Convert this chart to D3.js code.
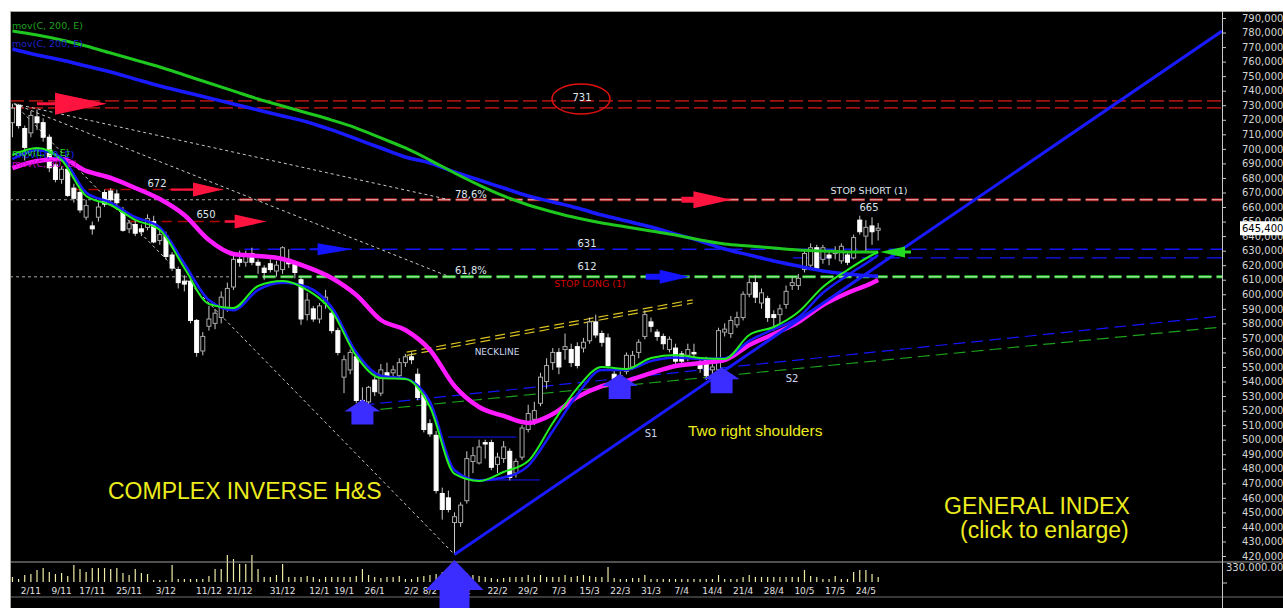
<!DOCTYPE html>
<html>
<head>
<meta charset="utf-8">
<script src="https://cdn.jsdelivr.net/npm/d3@7"></script>
<style>
  body { margin: 0; background: #fff; }
  svg { display: block; font-family: "DejaVu Sans", Verdana, sans-serif; }
</style>
</head>
<body>
<svg id="chart" width="1283" height="608"></svg>
<script>
// daily candles, 27/10/2015 .. 26/5/2016  [open, high, low, close]
const candles = [
  [718,731,708,728],[730,731,714,716],[714,716,692,701],[711,726,708,723],[722,727,713,718],
  [718,721,705,708],[708,710,684,687],[689,690,677,679],[679,688,676,686],[686,688,667,668],
  [673,676,663,666],[670,672,656,658],[653,665,651,661],[647,650,641,645],[653,664,650,660],
  [670,672,660,662],[671,673,662,665],[669,672,658,663],[656,660,643,644],[645,651,642,649],
  [648,651,640,642],[645,648,640,643],[646,655,644,652],[650,654,635,636],[637,646,634,641],
  [640,643,624,626],[627,629,616,618],[617,619,604,608],[609,613,602,607],[609,611,580,582],
  [582,583,557,560],[561,574,558,571],[578,592,575,583],[580,590,576,587],[584,602,580,598],
  [591,608,588,604],[605,627,603,624],[624,630,619,622],[622,630,619,627],[628,632,620,622],
  [622,624,614,620],[618,620,610,615],[621,624,615,617],[616,623,612,620],[617,633,614,632],
  [624,631,618,621],[621,623,611,615],[610,612,579,583],[586,601,582,596],[590,592,581,583],
  [583,594,580,592],[594,603,590,598],[587,589,573,575],[575,577,558,560],[543,558,532,555],
  [548,562,545,560],[557,559,525,527],[527,536,519,522],[526,537,524,536],[541,545,530,533],
  [532,552,530,548],[546,553,542,544],[546,551,543,548],[544,556,542,553],[553,559,550,557],
  [557,560,552,555],[545,549,527,529],[531,533,505,507],[511,514,502,504],[503,506,463,465],
  [463,467,445,452],[460,465,450,452],[443,450,421,447],[443,457,440,455],[458,492,456,487],
  [485,495,477,489],[484,500,483,495],[498,500,487,497],[498,500,479,481],[483,491,477,488],
  [487,499,484,495],[492,494,472,474],[477,487,474,485],[488,510,486,508],[507,524,505,518],
  [514,526,510,520],[525,546,523,543],[540,556,535,551],[553,563,548,560],[560,563,545,550],
  [562,573,555,564],[562,566,550,553],[564,567,549,551],[563,570,560,567],[568,584,566,581],
  [581,586,570,572],[573,575,564,567],[570,573,549,551],[545,548,538,542],[541,547,537,544],
  [547,560,545,558],[550,561,548,558],[560,569,556,567],[571,589,569,586],[581,584,574,578],
  [574,576,568,571],[571,573,562,566],[562,571,560,569],[563,566,552,554],[559,561,551,554],
  [558,566,554,562],[560,566,555,559],[553,556,546,549],[555,557,541,544],[548,553,543,550],
  [548,577,546,575],[574,580,571,576],[573,585,570,582],[579,588,577,584],[584,602,582,600],
  [600,611,598,608],[608,613,594,598],[594,604,590,601],[597,599,581,584],[586,589,575,584],
  [586,593,580,590],[593,606,590,602],[606,612,603,608],[606,614,603,611],[617,631,615,628],
  [620,635,617,632],[632,634,616,618],[624,634,621,632],[627,629,620,625],[628,633,624,630],
  [623,635,621,633],[627,629,620,622],[625,641,624,639],[651,654,641,643],[640,651,629,646],
  [647,653,634,643],[644,649,637,645.4]
];

// volume, millions
const volumes = [
  83,50,116,132,198,231,165,132,149,99, 281,215,165,231,231,231,215,231,149,116,
  215,149,132,33,33,33,281,50,50,50, 50,50,99,215,215,446,380,297,297,446,
  215,83,83,116,297,83,83,83,99,83, 50,83,83,83,83,83,99,215,116,83,
  66,83,83,99,50,50,83,99,116,132, 165,198,231,198,149,116,99,83,66,50,
  66,83,83,83,116,83,116,83,83,83, 116,83,99,116,99,83,83,248,66,50,
  50,66,66,116,50,50,50,50,50,50, 50,50,50,50,50,116,50,50,50,83,
  116,83,83,83,83,83,83,83,83,198, 99,83,50,50,99,50,50,165,198,198,
  132,83
];

// date labels and the candle they sit under
const dateLabels = ["2/11","9/11","17/11","25/11","3/12","11/12","21/12","31/12","12/1","19/1","26/1","2/2","8/2",
  "15/2","22/2","29/2","7/3","15/3","22/3","31/3","7/4","14/4","21/4","28/4","10/5","17/5","24/5"];
const dateIdx = [3,8,13,19,25,32,37,44,50,54,59,65,68,73,79,84,89,94,99,104,109,114,119,124,129,134,139];

const priceTicks = [420,430,440,450,460,470,480,490,500,510,520,530,540,550,560,570,580,590,600,
  610,620,630,640,650,660,670,680,690,700,710,720,730,740,750,760,770,780,790];

// moving averages read at every 4th candle
const maIdx = [0,4,8,12,16,20,24,28,32,36,40,44,48,52,56,60,64,68,72,76,80,84,88,92,96,100,104,108,112,116,120,124,128,132,136,140,141];
const ema200Green = [781.1,778.3,774.9,770.7,765.9,761.1,756.3,750.8,745.3,739.8,734.3,729.5,724.7,719.8,714.3,707.5,700.6,692.3,683.4,675.1,667.6,661.4,656.6,652.4,649,646.3,643.5,640.8,637.3,634.6,633.2,631.8,630.4,629.8,629.1,629.1,629.1];
const ema200Blue = [768.7,764.6,761.1,757,752.9,748,743.2,739.1,735,730.9,726.7,722.6,718.5,713,706.8,700.6,694.4,690.3,684.1,678.6,673.1,667.6,663.5,659.3,654.5,650.4,646.3,641.4,636.6,631.1,627,622.9,619.4,616,613.9,612.6,612.6];
const ema9Low = [695.8,700.6,692.3,667.6,661.4,651.1,644.2,618.1,593.3,590.6,605.7,609.1,602.9,588.5,557.5,542.4,541.7,522.5,476.4,471.6,477.8,485.3,511.5,535.5,550,548.6,556.2,558.2,556.2,555.5,572,577.5,587.8,605,616.7,627,629.1];
const ema9High = [693,699,694,670,663,653,646,621,596,589,603,608,605,591,560,544,542,526,479,472,474,482,506,531,548,548,554,556.5,555.5,556,568,576,584,601,613,624,627];
const ema30 = [686.8,691.7,693,684.8,680,673.1,665.5,654.5,637.3,627.7,626.3,624.3,618.7,611.2,599.5,582.3,575.4,561.7,536.9,522.5,516.3,511.5,517.6,529.3,536.9,540.3,545.8,550.7,552.7,554.8,565.1,572.7,580.9,592.6,600.9,607.7,609.8];

const lastPrice = 645.4;

// ---- layout ----
const svg = d3.select("#chart");
const PLOT = { left: 10, right: 1222, top: 11, bottom: 562 };
const x = d3.scaleLinear().domain([-0.4, 197]).range([PLOT.left, PLOT.right]);
const y = d3.scaleLinear().domain([420, 790]).range([556, 18]);
const yVol = d3.scaleLinear().domain([0, 330]).range([582, 562]);
const fmt = (v) => v.toFixed(3).replace(".", ",");

svg.append("rect").attr("x", 10).attr("y", 11).attr("width", 1273).attr("height", 597).attr("fill", "#000");

svg.append("defs").append("clipPath").attr("id", "plotClip")
  .append("rect").attr("x", PLOT.left).attr("y", PLOT.top)
  .attr("width", PLOT.right - PLOT.left).attr("height", PLOT.bottom - PLOT.top);

const plot = svg.append("g").attr("clip-path", "url(#plotClip)");

function hline(v, s0, s1, stroke, width, dash) {
  plot.append("line")
    .attr("x1", x(s0)).attr("x2", x(s1))
    .attr("y1", y(v)).attr("y2", y(v))
    .style("stroke", stroke).style("stroke-width", width)
    .style("stroke-dasharray", dash || null);
}
function segment(a, b, stroke, width, dash) {
  plot.append("line")
    .attr("x1", x(a[0])).attr("y1", y(a[1]))
    .attr("x2", x(b[0])).attr("y2", y(b[1]))
    .style("stroke", stroke).style("stroke-width", width)
    .style("stroke-dasharray", dash || null);
}

// ---- levels ----
hline(733, -0.4, 197, "#a01212", 1.6, "14,5");
hline(728.2, -0.4, 197, "#a01212", 1.6, "14,5");
hline(665, -0.4, 37, "#a8a8a8", 1, "3,3");
hline(612, -0.4, 37.8, "#a8a8a8", 1, "3,3");
hline(665, 37, 197, "#b01818", 3, "13,5");
hline(665, 37, 197, "#f0f0f0", 0.8, "13,5");
hline(612, 37.8, 197, "#1ec81e", 3, "13,5");
hline(612, 37.8, 197, "#f0f0f0", 0.8, "13,5");
hline(631, 37.8, 197, "#1414ff", 1.5, "15,8");
hline(625, 127.1, 197, "#1414ff", 1.2, "15,8");
hline(672, 9.8, 34.3, "#b00000", 1.5, "10,6");
hline(650, 19.1, 36, "#b00000", 1.5, "10,6");
hline(501.8, 70.9, 82.1, "#1414ff", 1, null);
hline(472.3, 75.6, 85.9, "#1414ff", 1, null);

// fibonacci fan
segment([0.3, 731], [72, 421], "#c8c8c8", 1, "3,3");
segment([0.3, 731], [71.2, 665], "#c8c8c8", 1, "3,3");
segment([0.3, 731], [71.2, 612], "#c8c8c8", 1, "3,3");

// supports and neckline
segment([57, 523.8], [197, 585], "#1414ff", 1.2, "12,6");
segment([57, 519.7], [197, 577.5], "#1aa01a", 1.2, "12,6");
segment([64.2, 558], [110.8, 594], "#d8c020", 1.2, "10,5");
segment([64.2, 560.2], [110.8, 596.2], "#d8c020", 1.2, "10,5");

// ---- candles ----
plot.selectAll(".wick").data(candles).join("line")
  .attr("class", "wick")
  .attr("x1", (d, i) => x(i)).attr("x2", (d, i) => x(i))
  .attr("y1", (d) => y(d[1])).attr("y2", (d) => y(d[2]))
  .style("stroke", "#c8c8c8").style("stroke-width", 1);

plot.selectAll(".body").data(candles).join("rect")
  .attr("class", "body")
  .attr("x", (d, i) => x(i) - 2)
  .attr("y", (d) => y(Math.max(d[0], d[3])))
  .attr("width", 4)
  .attr("height", (d) => Math.max(1, Math.abs(y(d[0]) - y(d[3]))))
  .style("fill", (d) => (d[3] >= d[0] ? "#000" : "#fff"))
  .style("stroke", (d) => (d[3] >= d[0] ? "#a8a8a8" : "#fff"))
  .style("stroke-width", 1);

// ---- moving averages ----
const maLine = (vals) => d3.line()
  .x((d, k) => x(maIdx[k]))
  .y((d) => y(d))
  .curve(d3.curveMonotoneX)(vals);

plot.append("path").attr("d", maLine(ema200Blue)).style("fill", "none").style("stroke", "#1a1aff").style("stroke-width", 3.5);
plot.append("path").attr("d", maLine(ema200Green)).style("fill", "none").style("stroke", "#1ec81e").style("stroke-width", 3);
plot.append("path").attr("d", maLine(ema30)).style("fill", "none").style("stroke", "#ff1aff").style("stroke-width", 4.5);
plot.append("path").attr("d", maLine(ema9High)).style("fill", "none").style("stroke", "#1a1aff").style("stroke-width", 2.5);
plot.append("path").attr("d", maLine(ema9Low)).style("fill", "none").style("stroke", "#22ee22").style("stroke-width", 2);

// main trendline S1
segment([72, 421], [197, 781], "#1a1aff", 3, null);

// ---- arrows ----
function arrowPath(tx, ty, dir, head, half, shaft, sw) {
  if (dir === "r") {
    return `M${tx - head - shaft},${ty - sw}L${tx - head},${ty - sw}L${tx - head},${ty - half}L${tx},${ty}` +
      `L${tx - head},${ty + half}L${tx - head},${ty + sw}L${tx - head - shaft},${ty + sw}Z`;
  }
  if (dir === "l") {
    return `M${tx + head + shaft},${ty - sw}L${tx + head},${ty - sw}L${tx + head},${ty - half}L${tx},${ty}` +
      `L${tx + head},${ty + half}L${tx + head},${ty + sw}L${tx + head + shaft},${ty + sw}Z`;
  }
  return `M${tx - sw},${ty + head + shaft}L${tx - sw},${ty + head}L${tx - half},${ty + head}L${tx},${ty}` +
    `L${tx + half},${ty + head}L${tx + sw},${ty + head}L${tx + sw},${ty + head + shaft}Z`;
}
const arrows = [
  { s: 15.4, v: 731, dir: "r", head: 52, half: 11, shaft: 18, sw: 1.5, c: "#ff1440" },
  { s: 34.3, v: 672, dir: "r", head: 30, half: 7, shaft: 22, sw: 1.2, c: "#ff1440" },
  { s: 41.4, v: 650, dir: "r", head: 32, half: 7, shaft: 10, sw: 1.2, c: "#ff1440" },
  { s: 117.1, v: 665, dir: "r", head: 38, half: 8.5, shaft: 12, sw: 3, c: "#ff1440" },
  { s: 55.4, v: 631, dir: "r", head: 35, half: 6, shaft: 8, sw: 1, c: "#1414ff" },
  { s: 110.3, v: 612, dir: "r", head: 30, half: 7, shaft: 14, sw: 3, c: "#1414ff" },
  { s: 141.3, v: 629, dir: "l", head: 25, half: 5.5, shaft: 6, sw: 1.5, c: "#22dd22" },
  { s: 57, v: 527.6, dir: "u", head: 12, half: 18, shaft: 13, sw: 11, c: "#3b2cff" },
  { s: 98.9, v: 545.2, dir: "u", head: 12, half: 18, shaft: 13, sw: 11, c: "#3b2cff" },
  { s: 115.5, v: 549.8, dir: "u", head: 12, half: 18, shaft: 14, sw: 11, c: "#3b2cff" }
];
plot.selectAll(".arrow").data(arrows).join("path")
  .attr("class", "arrow")
  .attr("d", (d) => arrowPath(x(d.s), y(d.v), d.dir, d.head, d.half, d.shaft, d.sw))
  .style("fill", (d) => d.c);

// ellipse around 731
plot.append("ellipse").attr("cx", x(92.6)).attr("cy", y(734.3)).attr("rx", 29).attr("ry", 15)
  .style("fill", "none").style("stroke", "#e01010").style("stroke-width", 1.5);

// ---- labels inside plot ----
const labels = [
  { t: "731", x: 582, y: 97, c: "#dfe6ee", a: "middle", s: 10 },
  { t: "672", x: 157, y: 183, c: "#dfe6ee", a: "middle", s: 10 },
  { t: "650", x: 206, y: 214, c: "#dfe6ee", a: "middle", s: 10 },
  { t: "631", x: 587, y: 243, c: "#dfe6ee", a: "middle", s: 10 },
  { t: "612", x: 587, y: 266, c: "#dfe6ee", a: "middle", s: 10 },
  { t: "STOP LONG (1)", x: 590, y: 283, c: "#d00000", a: "middle", s: 9.5 },
  { t: "78,6%", x: 455, y: 194, c: "#dfe6ee", a: "start", s: 10 },
  { t: "61,8%", x: 455, y: 270, c: "#dfe6ee", a: "start", s: 10 },
  { t: "STOP SHORT (1)", x: 869, y: 190, c: "#dfe6ee", a: "middle", s: 9.5 },
  { t: "665", x: 869, y: 207, c: "#dfe6ee", a: "middle", s: 10 },
  { t: "NECKLINE", x: 497, y: 352, c: "#cbd8f0", a: "middle", s: 9 },
  { t: "S1", x: 651, y: 433, c: "#cbd8f0", a: "middle", s: 10 },
  { t: "S2", x: 792, y: 378, c: "#cbd8f0", a: "middle", s: 10 }
];
svg.selectAll(".lbl").data(labels).join("text")
  .attr("class", "lbl")
  .attr("x", (d) => d.x).attr("y", (d) => d.y)
  .attr("dominant-baseline", "central")
  .attr("text-anchor", (d) => d.a)
  .style("font-size", (d) => d.s + "px")
  .style("fill", (d) => d.c)
  .text((d) => d.t);

const titles = [
  { t: "COMPLEX INVERSE H&S", x: 108, y: 491, s: 23 },
  { t: "Two right shoulders", x: 688, y: 430, s: 15.5 },
  { t: "GENERAL INDEX", x: 944, y: 506, s: 23 },
  { t: "(click to enlarge)", x: 960, y: 530, s: 23 }
];
svg.selectAll(".title").data(titles).join("text")
  .attr("class", "title")
  .attr("x", (d) => d.x).attr("y", (d) => d.y)
  .attr("dominant-baseline", "central")
  .style("font-family", "'Liberation Sans', Arial, sans-serif")
  .style("font-size", (d) => d.s + "px")
  .style("fill", "#ecec1e")
  .text((d) => d.t);

// legend
const legend = [
  { t: "mov(C, 200, E)", x: 12, y: 25, c: "#1ea01e" },
  { t: "mov(C, 200, E)", x: 12, y: 43, c: "#2020c8" },
  { t: "mov(H, 9, E)", x: 15, y: 154, c: "#2020ff" },
  { t: "mov(L, 9, E)", x: 12, y: 152, c: "#22dd22" },
  { t: "mov(C, 30, E)", x: 12, y: 163, c: "#c000c0" }
];
svg.selectAll(".leg").data(legend).join("text")
  .attr("class", "leg")
  .attr("x", (d) => d.x).attr("y", (d) => d.y)
  .attr("dominant-baseline", "central")
  .style("font-size", "9.5px")
  .style("fill", (d) => d.c)
  .text((d) => d.t);

// ---- volume pane ----
svg.append("g").selectAll("line").data(volumes).join("line")
  .attr("x1", (d, i) => x(i)).attr("x2", (d, i) => x(i))
  .attr("y1", yVol(0)).attr("y2", (d) => yVol(d))
  .style("stroke", "#f0eca8").style("stroke-width", 1.2);

// ---- frame and axes ----
svg.append("line").attr("x1", 10).attr("x2", 1283).attr("y1", 562).attr("y2", 562).style("stroke", "#a0a0a0");
svg.append("line").attr("x1", 10).attr("x2", 1283).attr("y1", 597).attr("y2", 597).style("stroke", "#707070");
svg.append("line").attr("x1", 10).attr("x2", 1283).attr("y1", 11.5).attr("y2", 11.5).style("stroke", "#a8a8a0");
svg.append("line").attr("x1", 10.5).attr("x2", 10.5).attr("y1", 11).attr("y2", 608).style("stroke", "#a8a8a0");

const yAxis = svg.append("g")
  .attr("transform", `translate(${PLOT.right},0)`)
  .call(d3.axisRight(y).tickValues(priceTicks).tickSize(4).tickPadding(16).tickFormat(fmt));
yAxis.select(".domain").remove();
yAxis.selectAll(".tick line").style("stroke", "#c8c8c8");
yAxis.selectAll(".tick text").style("fill", "#d4d4d4").style("font-size", "10px")
  .style("font-family", "'DejaVu Sans', Verdana, sans-serif");
svg.append("line").attr("x1", PLOT.right + 0.5).attr("x2", PLOT.right + 0.5).attr("y1", 11).attr("y2", 608)
  .style("stroke", "#c8c8c8");

// last price box
svg.append("rect").attr("x", 1240).attr("y", y(lastPrice) - 7).attr("width", 43).attr("height", 14).style("fill", "#fff");
svg.append("text").attr("x", 1242).attr("y", y(lastPrice)).attr("dominant-baseline", "central")
  .style("font-size", "10px").style("fill", "#000").text(fmt(lastPrice));

// volume scale
svg.append("text").attr("x", 1226).attr("y", 567).attr("dominant-baseline", "central")
  .style("font-size", "10px").style("fill", "#d4d4d4").text("330.000.00");
svg.append("line").attr("x1", PLOT.right).attr("x2", PLOT.right + 5).attr("y1", 583).attr("y2", 583).style("stroke", "#c8c8c8");

// date axis
svg.selectAll(".date").data(dateLabels).join("text")
  .attr("class", "date")
  .attr("x", (d, k) => x(dateIdx[k])).attr("y", 591)
  .attr("text-anchor", "middle").attr("dominant-baseline", "central")
  .style("font-size", "9px").style("fill", "#e0e0e0")
  .text((d) => d);

// big arrow at the low, over volume pane and dates
svg.append("path")
  .attr("d", arrowPath(x(72), y(417.2), "u", 30, 29, 20, 15))
  .style("fill", "#3b2cff");
</script>
</body>
</html>
